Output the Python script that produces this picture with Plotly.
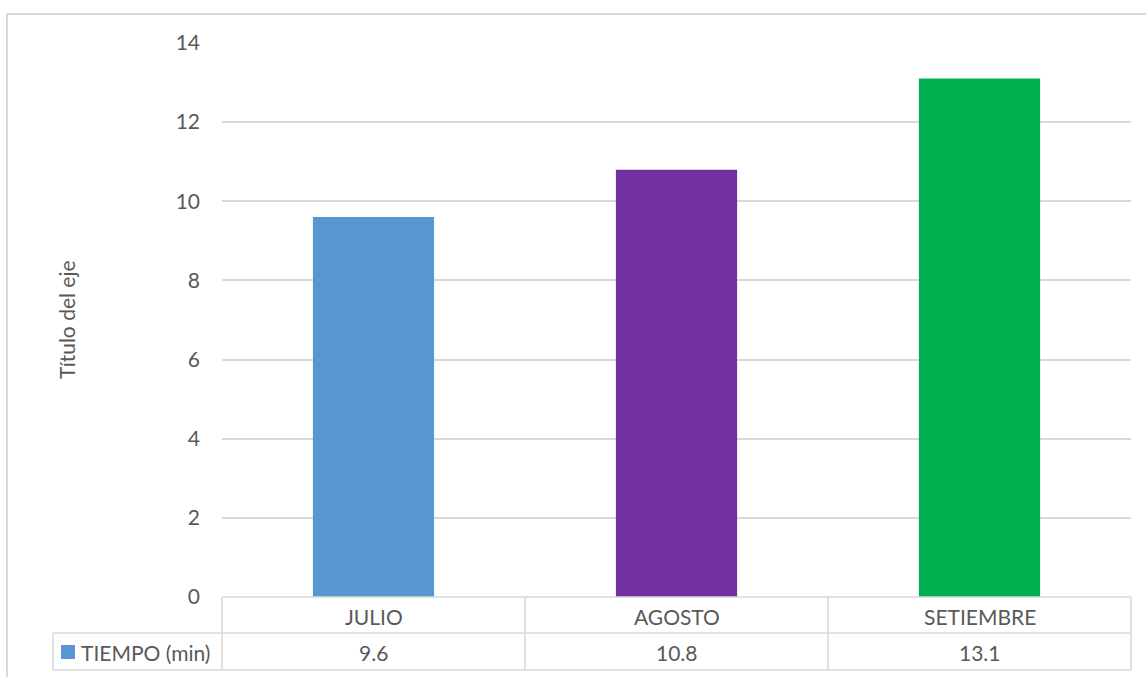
import plotly.graph_objects as go

categories = ["JULIO", "AGOSTO", "SETIEMBRE"]
values = [9.6, 10.8, 13.1]
series_name = "TIEMPO (min)"
bar_colors = ["#5897d2", "#7030a0", "#00b050"]
y_ticks = [0, 2, 4, 6, 8, 10, 12, 14]
y_title = "Título del eje"

W, H = 1146, 677
L, R, T, B = 222, 15, 43, 80
pw, ph = W - L - R, H - T - B

def px_x(x):
    return (x - L) / pw

def px_y(y):
    return (H - B - y) / ph

FONT = "Lato"
TXT = "#595959"
GRID = "#d9d9d9"
FS = 21

fig = go.Figure()
fig.add_trace(go.Bar(
    x=categories, y=values, width=0.4,
    marker=dict(color=bar_colors, line=dict(width=0)),
    name=series_name, showlegend=False,
))

shapes = []
def line(x0, y0, x1, y1, w=1.5):
    shapes.append(dict(type="line", xref="paper", yref="paper",
                       x0=px_x(x0), y0=px_y(y0), x1=px_x(x1), y1=px_y(y1),
                       line=dict(color=GRID, width=w), layer="above"))

# outer chart frame
shapes.append(dict(type="rect", xref="paper", yref="paper",
                   x0=px_x(7), y0=px_y(14), x1=px_x(1160), y1=px_y(700),
                   line=dict(color=GRID, width=2), layer="below"))
# data table
line(222, 597, 1131, 597)
line(53, 633, 1131, 633)
line(53, 670, 1131, 670)
line(53, 633, 53, 670)
line(222, 597, 222, 670)
n = len(categories)
for i in range(1, n + 1):
    xx = L + pw * i / n
    line(xx, 597, xx, 670)
# legend key
shapes.append(dict(type="rect", xref="paper", yref="paper",
                   x0=px_x(61), y0=px_y(659), x1=px_x(75), y1=px_y(645),
                   fillcolor=bar_colors[0], line=dict(width=0)))

annotations = []
for c, v in zip(categories, values):
    annotations.append(dict(x=c, y=px_y(616), xref="x", yref="paper",
                            text=c, showarrow=False, yanchor="middle",
                            font=dict(family=FONT, size=FS, color=TXT)))
    annotations.append(dict(x=c, y=px_y(652), xref="x", yref="paper",
                            text=f"{v:g}", showarrow=False, yanchor="middle",
                            font=dict(family=FONT, size=FS, color=TXT)))
annotations.append(dict(x=px_x(79), y=px_y(652), xref="paper", yref="paper",
                        text=series_name, showarrow=False, xanchor="left",
                        yanchor="middle",
                        font=dict(family=FONT, size=FS, color=TXT)))
annotations.append(dict(x=px_x(66), y=0.5, xref="paper", yref="paper",
                        text=y_title, showarrow=False, textangle=-90,
                        xanchor="center", yanchor="middle",
                        font=dict(family=FONT, size=FS, color=TXT)))

fig.update_layout(
    width=W, height=H,
    margin=dict(l=L, r=R, t=T, b=B),
    paper_bgcolor="white", plot_bgcolor="white",
    bargap=0.6,
    xaxis=dict(showticklabels=False, showgrid=False, zeroline=False,
               showline=False, ticks=""),
    yaxis=dict(range=[0, 14], tickvals=y_ticks, showgrid=True,
               gridcolor=GRID, gridwidth=1.5, zeroline=False, showline=False,
               ticks="", ticklabelstandoff=21,
               tickfont=dict(family=FONT, size=FS, color=TXT)),
    shapes=shapes, annotations=annotations,
    showlegend=False,
)

fig.write_html("out.html")
